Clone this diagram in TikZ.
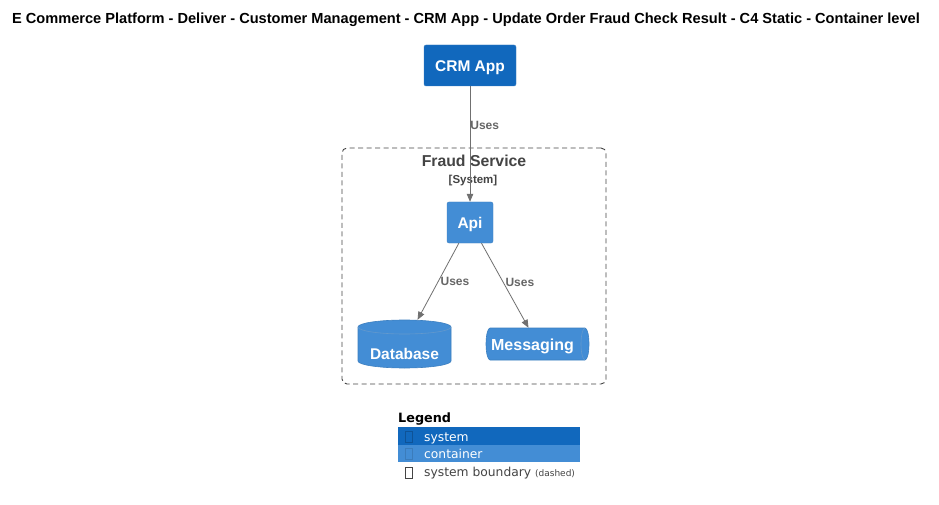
\documentclass[tikz,border=0pt]{standalone}
\usepackage{fontspec}
\setmainfont{Liberation Sans}
\newfontfamily\legendfont{DejaVu Sans}
\usetikzlibrary{arrows.meta}
\definecolor{sysblue}{HTML}{1168BD}
\definecolor{conblue}{HTML}{438DD5}
\definecolor{conborder}{HTML}{3C7FC0}
\definecolor{sysborder}{HTML}{3C7FC0}
\definecolor{linegray}{HTML}{707070}
\definecolor{textgray}{HTML}{444444}
\definecolor{labelgray}{HTML}{666666}
\begin{document}
\begin{tikzpicture}[x=1pt,y=-1pt,
  boxfont/.style={font=\bfseries\fontsize{15.5}{18}\selectfont, text height=11.2pt, text depth=0pt},
  sysbox/.style={draw=sysborder, fill=sysblue, rounded corners=2pt, text=white, boxfont, inner sep=0pt},
  conbox/.style={draw=conborder, fill=conblue, rounded corners=2pt, text=white, boxfont, inner sep=0pt},
  hitbox/.style={draw=none, inner sep=0pt},
  cylfill/.style={fill=conblue, draw=conborder, line width=0.6pt},
  cylrim/.style={draw=conborder!80!white, line width=0.6pt},
  cyltext/.style={text=white, boxfont, inner sep=0pt},
  rel/.style={draw=linegray, line width=0.8pt, -{Triangle[length=8pt,width=6.5pt]}},
  rellabel/.style={text=labelgray, font=\bfseries\fontsize{12}{14}\selectfont, inner sep=0pt, anchor=west},
  boundary/.style={draw=textgray, dash pattern=on 5pt off 3.5pt, rounded corners=5pt, line width=0.9pt},
  legrow/.style={minimum width=182pt, minimum height=17.5pt, inner sep=0pt, anchor=north west},
  legtext/.style={font=\legendfont\fontsize{12.3}{14}\selectfont, inner sep=0pt, anchor=base west},
  tofu/.style={minimum width=6.5pt, minimum height=11pt, inner sep=0pt, line width=0.6pt}
]
\useasboundingbox (0,0) rectangle (939,505);
\fill[white] (0,0) rectangle (939,505);

% title
\node[font=\bfseries\fontsize{14.6}{17}\selectfont, inner sep=0pt, anchor=base] (title) at (466,24) {E Commerce Platform - Deliver - Customer Management - CRM App - Update Order Fraud Check Result - C4 Static - Container level};

% boundary
\node[boundary, minimum width=264pt, minimum height=236pt, inner sep=0pt] (fraud) at (474,266) {};
\node[text=textgray, font=\bfseries\fontsize{15.8}{18}\selectfont, inner sep=0pt, anchor=base] (fraudname) at (474,167) {Fraud Service};
\node[text=textgray, font=\bfseries\fontsize{11.5}{13}\selectfont, inner sep=0pt, anchor=base] (fraudtype) at (473,183) {[System]};

% boxes
\node[sysbox, minimum width=92pt, minimum height=41pt] (crm) at (470,65.5) {CRM App};
\node[conbox, minimum width=46pt, minimum height=41pt] (api) at (470,222.5) {Api};

% database cylinder
\path[cylfill] (358,327) -- (358,361) arc[start angle=180, end angle=0, x radius=46.5, y radius=7]
  -- (451,327) arc[start angle=0, end angle=-180, x radius=46.5, y radius=7] -- cycle;
\path[cylrim] (358,327) arc[start angle=180, end angle=0, x radius=46.5, y radius=7];
\node[hitbox, minimum width=93pt, minimum height=48pt] (db) at (404.5,344) {};
\node[cyltext] (dbtext) at (404.5,354) {Database};

% messaging cylinder
\path[cylfill] (490,328) arc[start angle=270, end angle=90, x radius=4, y radius=16]
  -- (585,360) arc[start angle=90, end angle=-90, x radius=4, y radius=16] -- cycle;
\path[cylrim] (585,328) arc[start angle=270, end angle=90, x radius=4, y radius=16];
\node[hitbox, minimum width=103pt, minimum height=32pt] (msg) at (537.5,344) {};
\node[cyltext, font=\bfseries\fontsize{16}{18}\selectfont] (msgtext) at (532.5,345) {Messaging};

% relations
\draw[rel] (crm) -- (api) node[rellabel, pos=0.34] (l1) {Uses};
\draw[rel] (api) -- (db) node[rellabel, pos=0.5, xshift=2pt] (l2) {Uses};
\draw[rel] (api) -- (msg) node[rellabel, pos=0.46, xshift=2pt] (l3) {Uses};

% legend
\node[font=\legendfont\bfseries\fontsize{12.8}{15}\selectfont, inner sep=0pt, anchor=base west] (legend) at (398,422) {Legend};
\node[legrow, fill=sysblue] (leg1) at (398,427) {};
\node[legrow, fill=conblue] (leg2) at (398,444.5) {};
\node[legrow] (leg3) at (398,462) {};
\node[tofu, draw=sysblue!80!black] (t1) at (409,436.5) {};
\node[tofu, draw=conblue!88!black] (t2) at (409,453.5) {};
\node[tofu, draw=textgray] (t3) at (409,472.5) {};
\node[legtext, text=white] (lt1) at (424,441) {system};
\node[legtext, text=white] (lt2) at (424,458) {container};
\node[legtext, text=textgray] (lt3) at (424,476) {system boundary {\fontsize{9}{10}\selectfont (dashed)}};
\end{tikzpicture}
\end{document}
